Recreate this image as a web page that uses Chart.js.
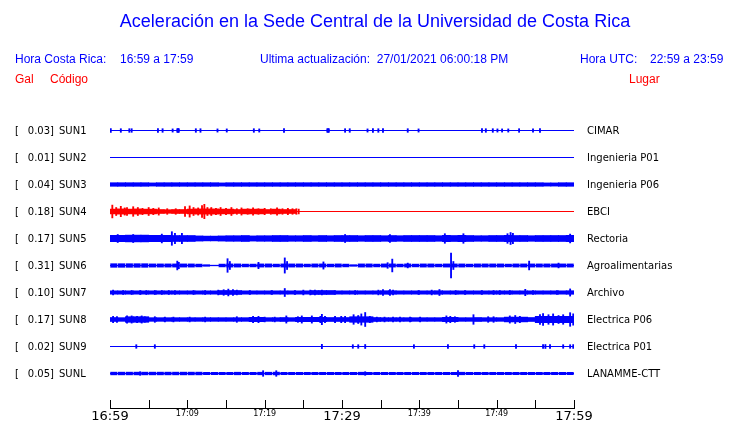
<!DOCTYPE html>
<html>
<head>
<meta charset="utf-8">
<script src="https://cdn.jsdelivr.net/npm/chart.js@4.4.1/dist/chart.umd.min.js"></script>
<style>
  html, body { margin: 0; padding: 0; background: #fff; }
</style>
</head>
<body>
<canvas id="sismo" width="740" height="423"></canvas>
<script>
// estaciones, de arriba hacia abajo
const stations = ['SUN1', 'SUN2', 'SUN3', 'SUN4', 'SUN5', 'SUN6', 'SUN7', 'SUN8', 'SUN9', 'SUNL'];
const places = ['CIMAR', 'Ingenieria P01', 'Ingenieria P06', 'EBCI', 'Rectoria', 'Agroalimentarias',
  'Archivo', 'Electrica P06', 'Electrica P01', 'LANAMME-CTT'];
const peakGal = [0.03, 0.01, 0.04, 0.18, 0.17, 0.31, 0.10, 0.17, 0.02, 0.05];
const tickLabels = ['16:59', '17:09', '17:19', '17:29', '17:39', '17:49', '17:59'];

// envolvente (Gal) por minuto, desde 16:59
const bandSUN1 = [];
const bandSUN2 = [];
const bandSUN3 = [.045,.045,.045,.045,.045,.04,.045,.045,.045,.045,.045,.045,.045,.045,.04,.045,.045,.045,.045,.045,
  .045,.045,.045,.045,.045,.045,.045,.045,.045,.045,.045,.045,.045,.045,.045,.045,.045,.045,.045,.045,
  .045,.045,.045,.045,.045,.045,.045,.045,.045,.045,.045,.045,.045,.045,.045,.045,.04,.04,.045,.045];
const bandSUN4 = [.06,.065,.06,.065,.06,.06,.05,.045,.05,.05,.06,.065,.065,.065,.06,.06,.05,.06,.06,.06,
  .05,.06,.05,.05];
const bandSUN5 = [.08,.08,.085,.085,.085,.08,.08,.08,.075,.075,.075,.065,.06,.06,.065,.07,.07,.075,.065,.07,
  .07,.075,.075,.07,.07,.075,.07,.075,.07,.075,.075,.075,.07,.075,.075,.07,.075,.07,.075,.075,
  .075,.075,.07,.08,.075,.08,.075,.07,.07,.075,.075,.08,.075,.075,.07,.075,.075,.075,.075,.08];
const bandSUN6 = [.045,.045,.045,.045,.045,.04,.04,.04,.04,.04,.04,.035,.02,.008,.035,.04,.04,.035,.035,.04,
  .04,.035,.04,.04,.04,.035,.04,.04,.035,.04,.035,.02,.04,.04,.035,.04,.04,.035,.04,.035,
  .04,.04,.035,.04,.04,.04,.035,.04,.04,.04,.04,.035,.04,.04,.04,.04,.04,.04,.04,.04];
const bandSUN7 = [.042,.042,.042,.042,.042,.042,.042,.042,.042,.042,.042,.042,.042,.042,.05,.05,.05,.042,.042,.042,
  .042,.042,.042,.042,.042,.042,.05,.05,.05,.042,.042,.042,.042,.042,.042,.045,.045,.042,.042,.042,
  .042,.042,.045,.042,.042,.042,.042,.042,.042,.042,.042,.042,.042,.042,.042,.042,.042,.042,.042,.045];
const bandSUN8 = [.05,.046,.07,.07,.07,.046,.046,.046,.046,.046,.046,.046,.046,.046,.046,.046,.046,.046,.055,.055,
  .046,.046,.05,.046,.055,.055,.055,.055,.05,.05,.05,.07,.07,.07,.05,.046,.046,.046,.046,.046,
  .046,.046,.046,.055,.055,.046,.046,.05,.046,.046,.046,.06,.06,.06,.05,.08,.08,.08,.08,.08];
const bandSUN9 = [];
const bandSUNL = [.034,.034,.034,.034,.034,.034,.034,.034,.034,.034,.034,.034,.03,.03,.03,.03,.032,.03,.03,.032,
  .032,.034,.03,.03,.03,.03,.03,.03,.03,.03,.03,.03,.032,.03,.03,.03,.03,.03,.03,.03,
  .03,.03,.03,.03,.03,.032,.03,.03,.03,.03,.03,.03,.03,.03,.03,.03,.03,.03,.03,.03];

// picos sueltos [minuto, Gal]
const spikesSUN1 = [[0.1,.045],[1.4,.045],[2.5,.045],[2.8,.045],[6.2,.045],[6.8,.045],[8.1,.04],[8.7,.045],[8.8,.045],[8.9,.045],
  [11.1,.045],[11.7,.045],[13.9,.04],[15.1,.04],[18.6,.045],[19.3,.04],[22.5,.045],[28.1,.045],[28.2,.045],[28.3,.045],
  [30.4,.045],[31.0,.045],[33.3,.04],[34.0,.045],[34.7,.045],[35.3,.045],[38.5,.045],[39.9,.04],[48.1,.045],
  [48.6,.045],[49.5,.045],[50.1,.04],[50.7,.04],[51.5,.04],[52.9,.045],[54.7,.04],[55.6,.045]];
const spikesSUN2 = [];
const spikesSUN3 = [];
const spikesSUN4 = [[0.3,.16],[0.8,.1],[1.4,.13],[1.9,.09],[2.2,.1],[3.0,.12],[3.6,.1],[4.2,.08],[5.0,.1],[5.6,.08],
  [6.3,.09],[7.4,.07],[8.5,.07],[9.7,.12],[10.3,.14],[10.8,.1],[11.4,.09],[11.9,.15],[12.2,.18],[12.6,.1],
  [13.1,.1],[13.7,.08],[14.3,.1],[15.0,.08],[15.7,.1],[16.4,.07],[17.0,.09],[17.8,.07],[18.5,.09],[19.2,.07],
  [20.0,.08],[20.8,.07],[21.6,.09],[22.3,.07],[23.0,.08],[23.6,.07],[24.1,.07],[24.4,.06]];
const spikesSUN5 = [[1.0,.1],[3.0,.1],[6.7,.11],[8.0,.17],[8.4,.13],[9.3,.13],[30.4,.1],[36.2,.1],[43.3,.12],
  [45.7,.12],[51.4,.12],[51.8,.15],[52.1,.13],[59.5,.11]];
const spikesSUN6 = [[8.7,.11],[8.9,.08],[15.2,.17],[15.5,.1],[19.2,.08],[22.6,.19],[22.9,.1],[27.6,.09],
  [35.9,.07],[36.5,.16],[38.5,.06],[44.1,.31],[44.4,.1],[54.2,.11],[58.0,.06]];
const spikesSUN7 = [[0.4,.06],[1.7,.05],[2.8,.05],[3.9,.05],[4.7,.05],[5.8,.05],[6.7,.05],[7.6,.05],[8.4,.05],
  [10.8,.05],[12.3,.05],[14.0,.06],[14.7,.07],[15.3,.085],[15.9,.07],[16.4,.06],[18.1,.05],[20.9,.05],
  [22.6,.1],[23.9,.05],[25.0,.06],[25.9,.06],[26.5,.06],[27.4,.06],[29.1,.05],[31.7,.05],[34.7,.06],
  [35.3,.07],[36.2,.07],[36.6,.06],[39.9,.05],[41.6,.06],[42.6,.075],[44.7,.05],[45.9,.05],[48.1,.05],
  [49.6,.05],[50.4,.05],[51.7,.05],[53.7,.08],[54.7,.05],[57.8,.05],[59.5,.09]];
const spikesSUN8 = [[0.4,.08],[0.9,.07],[2.2,.09],[2.8,.09],[3.5,.08],[4.1,.09],[4.5,.07],[5.8,.07],[7.1,.06],
  [8.2,.06],[10.3,.06],[12.3,.06],[16.4,.07],[18.5,.08],[19.2,.08],[20.0,.06],[21.3,.06],[22.8,.09],
  [24.3,.07],[24.8,.09],[26.1,.09],[27.2,.08],[27.4,.13],[27.8,.08],[29.1,.08],[29.9,.08],[30.4,.08],
  [31.5,.12],[32.1,.1],[32.5,.14],[33.0,.175],[33.6,.08],[34.5,.06],[35.5,.06],[36.6,.06],[37.5,.06],
  [38.8,.06],[40.1,.06],[43.5,.09],[44.0,.08],[44.6,.07],[47.0,.12],[48.9,.07],[49.6,.07],[51.7,.09],
  [52.4,.1],[53.0,.08],[55.6,.12],[56.0,.15],[56.7,.12],[57.3,.14],[58.0,.1],[58.6,.12],[59.5,.17],[59.9,.14]];
const spikesSUN9 = [[3.4,.045],[5.8,.045],[27.4,.055],[31.4,.045],[32.1,.045],[33.0,.05],[39.3,.045],[43.7,.045],
  [47.1,.045],[48.4,.045],[52.5,.045],[56.0,.05],[56.3,.05],[56.9,.045],[58.6,.045],[59.5,.045],[59.9,.045]];
const spikesSUNL = [[3.9,.045],[19.8,.07],[21.5,.07],[33.0,.045],[45.0,.07]];

const bands = [bandSUN1, bandSUN2, bandSUN3, bandSUN4, bandSUN5, bandSUN6, bandSUN7, bandSUN8, bandSUN9, bandSUNL];
const spikes = [spikesSUN1, spikesSUN2, spikesSUN3, spikesSUN4, spikesSUN5, spikesSUN6, spikesSUN7, spikesSUN8, spikesSUN9, spikesSUNL];

const BLUE = '#0000ff';
const RED = '#ff0000';
const ROW_PX = 27;          // separacion entre trazas
const GAL = 40 / ROW_PX;    // 40 px por Gal
const dashed = ['SUN6', 'SUNL'];

const datasets = [];
stations.forEach((s, i) => {
  const color = s === 'SUN4' ? RED : BLUE;
  datasets.push({
    type: 'line',
    data: [{x: 0, y: i}, {x: 60, y: i}],
    borderColor: color,
    borderWidth: 1,
    pointRadius: 0,
  });
  datasets.push({
    type: 'bar',
    data: bands[i].map((a, k) => ({x: k + 0.5, y: [i - a * GAL, i + a * GAL]})),
    backgroundColor: color,
    barThickness: dashed.includes(s) ? 6.5 : 8,
    grouped: false,
  });
  datasets.push({
    type: 'bar',
    data: spikes[i].map(([m, a]) => ({x: m, y: [i - a * GAL, i + a * GAL]})),
    backgroundColor: color,
    barThickness: 1.2,
    grouped: false,
  });
});

const overlay = {
  id: 'overlay',
  afterDraw(chart) {
    const {ctx, chartArea} = chart;
    const x = chart.scales.x, y = chart.scales.y;
    ctx.save();
    // marcas hacia arriba cada 5 minutos
    ctx.strokeStyle = '#000';
    ctx.lineWidth = 1;
    x.ticks.forEach(t => {
      const px = Math.round(x.getPixelForValue(t.value)) + 0.5;
      ctx.beginPath();
      ctx.moveTo(px, chartArea.bottom - 8);
      ctx.lineTo(px, chartArea.bottom);
      ctx.stroke();
    });

    ctx.textBaseline = 'middle';
    ctx.fillStyle = BLUE;
    ctx.font = '18px "Liberation Sans", Arial, sans-serif';
    ctx.textAlign = 'center';
    ctx.fillText('Aceleración en la Sede Central de la Universidad de Costa Rica', 375, 22);

    ctx.textAlign = 'left';
    ctx.font = '12px "Liberation Sans", Arial, sans-serif';
    ctx.fillText('Hora Costa Rica:', 15, 60);
    ctx.fillText('16:59 a 17:59', 120, 60);
    ctx.fillText('Ultima actualización:  27/01/2021 06:00:18 PM', 260, 60);
    ctx.fillText('Hora UTC:', 580, 60);
    ctx.fillText('22:59 a 23:59', 650, 60);
    ctx.fillStyle = RED;
    ctx.fillText('Gal', 15, 80);
    ctx.fillText('Código', 50, 80);
    ctx.fillText('Lugar', 629, 80);

    ctx.fillStyle = '#000';
    ctx.font = '10px "DejaVu Sans", sans-serif';
    stations.forEach((s, i) => {
      const py = y.getPixelForValue(i) + 0.5;
      ctx.textAlign = 'left';
      ctx.fillText('[', 15, py);
      ctx.fillText(s, 59, py);
      ctx.fillText(places[i], 587, py);
      ctx.textAlign = 'right';
      ctx.fillText(peakGal[i].toFixed(2) + ']', 54, py);
    });
    ctx.restore();
  }
};

new Chart(document.getElementById('sismo'), {
  type: 'line',
  data: {datasets: datasets},
  options: {
    responsive: false,
    animation: false,
    events: [],
    layout: {padding: {left: 110, right: 166, top: 100, bottom: 0}},
    plugins: {legend: {display: false}, tooltip: {enabled: false}},
    scales: {
      x: {
        type: 'linear',
        min: 0,
        max: 60,
        offset: false,
        afterFit: s => { s.height = 15; },
        grid: {display: false, drawTicks: false},
        border: {display: true, color: '#000', width: 1},
        ticks: {
          stepSize: 5,
          autoSkip: false,
          maxRotation: 0,
          padding: 2,
          color: '#000',
          font: c => ({family: 'DejaVu Sans', size: c.tick && c.tick.value % 30 === 0 ? 13 : 8, lineHeight: 1}),
          callback: v => (v % 10 === 0 ? tickLabels[v / 10] : ''),
        },
      },
      y: {
        type: 'linear',
        display: false,
        reverse: true,
        min: -30.5 / ROW_PX,
        max: 277.5 / ROW_PX,
      },
    },
  },
  plugins: [overlay],
});
</script>
</body>
</html>
